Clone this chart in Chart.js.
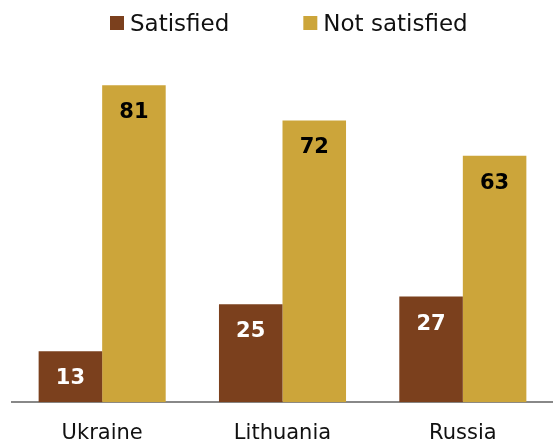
<!DOCTYPE html>
<html>
<head>
<meta charset="utf-8">
<script src="https://cdn.jsdelivr.net/npm/chart.js@4/dist/chart.umd.min.js"></script>
<style>
  html, body { margin: 0; padding: 0; background: #fff; }
  #wrap { width: 553px; height: 442px; }
</style>
</head>
<body>
<div id="wrap"><canvas id="satisfactionChart"></canvas></div>
<script>
// Satisfaction survey by country
const countries = ['Ukraine', 'Lithuania', 'Russia'];
const satisfied = [13, 25, 27];
const notSatisfied = [81, 72, 63];
const seriesNames = ['Satisfied', 'Not satisfied'];

const FONT = '"DejaVu Sans", Verdana, sans-serif';
const BROWN = '#7b401d';
const GOLD = '#cca53a';

// Square-box legend across the top
const topLegend = {
    id: 'topLegend',
    afterDraw(chart) {
        const ctx = chart.ctx;
        ctx.save();
        ctx.font = '23px ' + FONT;
        ctx.textBaseline = 'alphabetic';
        ctx.textAlign = 'left';
        let x = 110;
        chart.data.datasets.forEach(ds => {
            ctx.fillStyle = ds.backgroundColor;
            ctx.fillRect(x, 16, 14, 14);
            x += 20;
            ctx.fillStyle = '#111';
            ctx.fillText(ds.label, x, 31);
            x += ctx.measureText(ds.label).width + 74;
        });
        ctx.restore();
    }
};

// Value printed inside the top of each bar
const barValues = {
    id: 'barValues',
    afterDatasetsDraw(chart) {
        const ctx = chart.ctx;
        ctx.save();
        ctx.font = 'bold 21px ' + FONT;
        ctx.textAlign = 'center';
        ctx.textBaseline = 'alphabetic';
        chart.data.datasets.forEach((ds, i) => {
            const meta = chart.getDatasetMeta(i);
            ctx.fillStyle = ds.labelColor;
            meta.data.forEach((bar, j) => {
                ctx.fillText(String(ds.data[j]), bar.x, bar.y + 33);
            });
        });
        ctx.restore();
    }
};

new Chart(document.getElementById('satisfactionChart'), {
    type: 'bar',
    data: {
        labels: countries,
        datasets: [{
            label: seriesNames[0],
            data: satisfied,
            backgroundColor: BROWN,
            labelColor: '#ffffff'
        }, {
            label: seriesNames[1],
            data: notSatisfied,
            backgroundColor: GOLD,
            labelColor: '#000000'
        }]
    },
    options: {
        responsive: true,
        maintainAspectRatio: false,
        animation: false,
        layout: {
            padding: { top: 50, left: 12, right: -4, bottom: -23 }
        },
        plugins: {
            legend: { display: false },
            tooltip: { enabled: false }
        },
        datasets: {
            bar: {
                categoryPercentage: 0.7046,
                barPercentage: 1
            }
        },
        scales: {
            x: {
                grid: { display: false, drawTicks: false },
                border: { display: true, color: '#888888', width: 2 },
                ticks: {
                    color: '#111',
                    padding: 23,
                    font: { family: FONT, size: 21, lineHeight: 0.8 }
                }
            },
            y: {
                display: false,
                min: 0,
                max: 90
            }
        }
    },
    plugins: [topLegend, barValues]
});
</script>
</body>
</html>
